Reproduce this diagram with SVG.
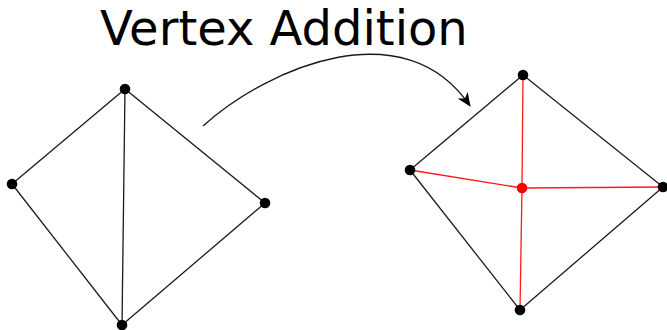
<svg xmlns="http://www.w3.org/2000/svg" width="667" height="330" viewBox="0 0 667 330">
  <style>
    .edge { stroke: #1a1a1a; stroke-width: 1.3; fill: none; }
    .new-edge { stroke: #ff1a1a; stroke-width: 1.3; fill: none; }
    .vertex { fill: #000; }
    .new-vertex { fill: #ff0000; }
    .title { font-family: "DejaVu Sans", sans-serif; font-size: 48px; fill: #000; }
  </style>
  <defs>
    <marker id="arrowhead" viewBox="0 0 14 12" refX="13" refY="6" markerWidth="14" markerHeight="12" markerUnits="userSpaceOnUse" orient="auto">
      <path d="M0,0 L14,6 L0,12 L4,6 Z" fill="#000"/>
    </marker>
  </defs>
  <rect width="667" height="330" fill="#fff"/>

  <text class="title" x="100" y="45">Vertex Addition</text>

  <!-- transformation arrow -->
  <g id="connectors">
    <path class="edge" d="M203,126 C270,66 405,10 470,106" marker-end="url(#arrowhead)"/>
  </g>

  <!-- graph before: four vertices, five edges -->
  <g id="graph-before">
    <line class="edge" x1="125" y1="89" x2="12" y2="184"/>
    <line class="edge" x1="125" y1="89" x2="265" y2="203"/>
    <line class="edge" x1="125" y1="89" x2="122" y2="325"/>
    <line class="edge" x1="12" y1="184" x2="122" y2="325"/>
    <line class="edge" x1="265" y1="203" x2="122" y2="325"/>
    <circle id="a-top" class="vertex" cx="125" cy="89" r="5.3"/>
    <circle id="a-left" class="vertex" cx="12" cy="184" r="5.3"/>
    <circle id="a-right" class="vertex" cx="265" cy="203" r="5.3"/>
    <circle id="a-bottom" class="vertex" cx="122" cy="325" r="5.3"/>
  </g>

  <!-- graph after: new vertex joined to all four -->
  <g id="graph-after">
    <line class="edge" x1="523" y1="75" x2="410" y2="170"/>
    <line class="edge" x1="523" y1="75" x2="663" y2="187"/>
    <line class="edge" x1="410" y1="170" x2="520" y2="310"/>
    <line class="edge" x1="663" y1="187" x2="520" y2="310"/>
    <line class="new-edge" x1="522" y1="188" x2="523" y2="75"/>
    <line class="new-edge" x1="522" y1="188" x2="410" y2="170"/>
    <line class="new-edge" x1="522" y1="188" x2="663" y2="187"/>
    <line class="new-edge" x1="522" y1="188" x2="520" y2="310"/>
    <circle id="b-top" class="vertex" cx="523" cy="75" r="5.3"/>
    <circle id="b-left" class="vertex" cx="410" cy="170" r="5.3"/>
    <circle id="b-right" class="vertex" cx="663" cy="187" r="5.3"/>
    <circle id="b-bottom" class="vertex" cx="520" cy="310" r="5.3"/>
    <circle id="b-new" class="new-vertex" cx="522" cy="188" r="5.3"/>
  </g>
</svg>
